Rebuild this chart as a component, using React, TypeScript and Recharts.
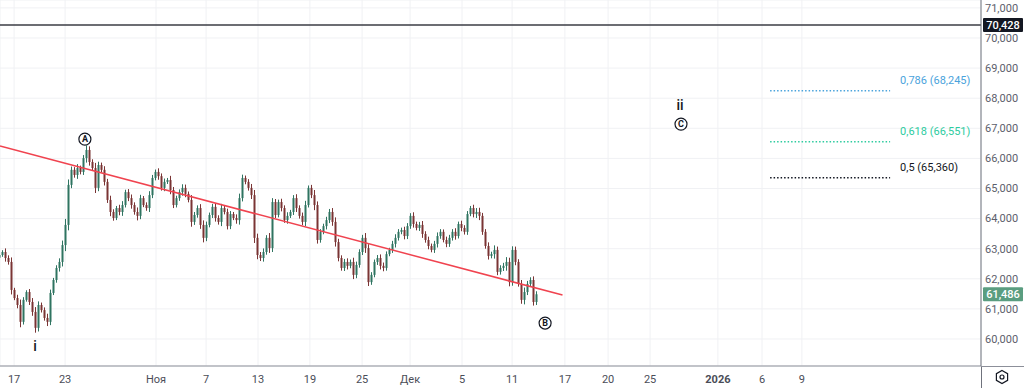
import {
  ComposedChart,
  Bar,
  XAxis,
  YAxis,
  CartesianGrid,
  ReferenceLine,
  ReferenceDot,
} from "recharts";

// closing prices, one per bar (bars are evenly spaced on the time index)
const closes = [
  62790, 62890, 62690, 62560, 61630, 61360, 61130, 60570, 61300, 61560, 61230, 60900, 60370, 61130, 60960, 60700, 60570, 61530, 61960, 62360,
  62560, 63120, 63790, 65120, 65620, 65450, 65680, 65550, 66010, 66280, 65880, 65680, 65020, 65780, 65620, 65220, 64620, 64220, 64020, 64350,
  64220, 64450, 64880, 64680, 64450, 64220, 64090, 64680, 64450, 64350, 64780, 65350, 65550, 65410, 65020, 65220, 65280, 64950, 64450, 64680,
  64880, 65020, 64820, 64620, 63890, 64120, 64350, 63790, 63360, 63790, 64120, 64390, 64020, 63890, 64350, 64220, 63750, 64150, 64020, 63950,
  64680, 65350, 65220, 65020, 64780, 63360, 62790, 62690, 62890, 63360, 63020, 64550, 64120, 64550, 64350, 63950, 64090, 64220, 64680, 64350,
  64090, 63890, 64450, 65020, 64780, 64450, 63290, 63560, 63750, 63950, 64220, 63890, 63220, 62690, 62360, 62560, 62430, 62560, 62130, 62460,
  62890, 63360, 63020, 61890, 62130, 62560, 62690, 62430, 62360, 62820, 62960, 63160, 63360, 63560, 63620, 63420, 63750, 64090, 63820, 63690,
  63790, 63490, 63290, 63090, 62960, 63160, 63420, 63560, 63290, 63160, 63360, 63560, 63420, 63820, 63690, 63560, 64150, 64350, 64150, 64220,
  64090, 63560, 63090, 62760, 62820, 62960, 62230, 62360, 62430, 62560, 61890, 62960, 62560, 61830, 61300, 61560, 61830, 61960, 61230, 61486,
];

// shadow length beyond the body, per bar
const wicks = [
  80, 60, 120, 90, 150, 70, 110, 180, 90, 60, 100, 130, 160, 120, 80, 90, 140, 110, 70, 90,
  120, 150, 200, 180, 110, 90, 130, 80, 100, 150, 120, 90, 170, 110, 80, 120, 100, 140, 90, 70,
  110, 130, 80, 100, 120, 90, 150, 110, 70, 90, 130, 100, 80, 120, 90, 110, 70, 140, 100, 80,
  90, 120, 110, 80, 160, 100, 90, 130, 150, 110, 80, 100, 120, 90, 140, 80, 110, 100, 70, 120,
  150, 110, 80, 90, 130, 170, 140, 100, 120, 90, 160, 130, 100, 80, 110, 90, 120, 70, 100, 130,
  90, 110, 140, 80, 100, 170, 120, 90, 80, 110, 100, 130, 150, 110, 90, 100, 120, 80, 140, 110,
  90, 100, 160, 130, 90, 80, 100, 120, 110, 90, 70, 100, 120, 90, 80, 110, 100, 90, 120, 80,
  100, 130, 90, 110, 80, 100, 120, 90, 80, 110, 100, 90, 120, 80, 110, 90, 100, 70, 110, 130,
  140, 100, 90, 120, 80, 150, 110, 90, 100, 160, 140, 120, 110, 90, 130, 150, 100, 90, 120, 100,
];

const firstOpen = 62700;

const timeDomain = [0, 327];
const timeTicks = [4.7, 21.7, 52, 68.7, 86, 103.3, 120.7, 136.7, 154, 170.7, 188.3, 202.7, 216.7, 239.3, 254, 267.3];
const timeLabels = ["17", "23", "Ноя", "7", "13", "19", "25", "Дек", "5", "11", "17", "20", "25", "2026", "6", "9"];

const priceDomain = [59103, 71262];
const priceTicks = [60000, 61000, 62000, 63000, 64000, 65000, 66000, 67000, 68000, 69000, 70000, 71000];

const trendLine = [
  { idx: 0, price: 66410 },
  { idx: 187.5, price: 61460 },
];

const fibRatios = ["0,786", "0,618", "0,5"];
const fibPrices = [68245, 66551, 65360];
const fibFrom = 256.7;
const fibTo = 296.7;

const markerPrice = 70428;
const lastPrice = 61486;

const waveNames = ["A", "i", "B", "ii", "C"];
const waveIdx = [28.3, 11.7, 181.7, 226.7, 227];
const wavePrices = [66640, 59770, 60530, 67770, 67140];
const waveCircled = [true, false, true, false, true];

const UP = "#2f7461";
const DOWN = "#7a3434";
const fibColors = ["#4aa3dc", "#2ecc9f", "#131722"];

const candles = closes.map((close, i) => {
  const open = i === 0 ? firstOpen : closes[i - 1];
  return {
    idx: i,
    open,
    close,
    range: [Math.min(open, close) - wicks[i], Math.max(open, close) + wicks[i]],
  };
});

const fmt = (v: number) => v.toLocaleString("en-US");

function Candle(props: any) {
  const { x, y, width, height, payload } = props;
  if (height == null || !payload) return null;
  const [lo, hi] = payload.range;
  const up = payload.close >= payload.open;
  const color = up ? UP : DOWN;
  const cx = x + width / 2;
  const k = height / (hi - lo || 1);
  const top = y + (hi - Math.max(payload.open, payload.close)) * k;
  const bot = y + (hi - Math.min(payload.open, payload.close)) * k;
  return (
    <g>
      <line x1={cx} x2={cx} y1={y} y2={y + height} stroke={color} strokeWidth={1} />
      <rect x={x} y={top} width={width} height={Math.max(1, bot - top)} fill={color} />
    </g>
  );
}

function TimeTick(props: any) {
  const { x, y, payload, index } = props;
  const label = timeLabels[index] ?? "";
  return (
    <text
      x={x}
      y={y}
      dy={9}
      textAnchor="middle"
      fontSize={11}
      fill="#4a4d57"
      fontWeight={label === "2026" ? 700 : 400}
    >
      {label}
    </text>
  );
}

function PriceTag({ cx, cy, text, bg }: any) {
  return (
    <g>
      <rect x={cx + 2} y={cy - 7} width={40} height={14} fill={bg} rx={1} />
      <text x={cx + 22} y={cy + 4} textAnchor="middle" fontSize={11} fill="#fff" fontWeight={500}>
        {text}
      </text>
    </g>
  );
}

function WaveMark({ cx, cy, name, circled }: any) {
  if (circled) {
    return (
      <g>
        <circle cx={cx} cy={cy} r={6} fill="#fff" stroke="#131722" strokeWidth={1.2} />
        <text x={cx} y={cy + 3.3} textAnchor="middle" fontSize={9} fontWeight={700} fill="#131722">
          {name}
        </text>
      </g>
    );
  }
  return (
    <text x={cx} y={cy + 5} textAnchor="middle" fontSize={14} fontWeight={500} fill="#131722">
      {name}
    </text>
  );
}

export default function App() {
  return (
    <div
      style={{
        position: "fixed",
        left: 0,
        top: 0,
        width: 1024,
        height: 388,
        background: "#fff",
        fontFamily: "Roboto, 'Noto Sans', sans-serif",
      }}
    >
      <ComposedChart
        width={1024}
        height={388}
        data={candles}
        margin={{ top: 0, right: 0, left: 0, bottom: 0 }}
      >
        <CartesianGrid stroke="#f0f1f4" strokeWidth={1} />
        <XAxis
          dataKey="idx"
          type="number"
          domain={timeDomain}
          ticks={timeTicks}
          allowDataOverflow
          height={22}
          tickLine={false}
          axisLine={{ stroke: "#8c8f99" }}
          tick={<TimeTick />}
          interval={0}
        />
        <YAxis
          orientation="right"
          type="number"
          domain={priceDomain}
          ticks={priceTicks}
          allowDataOverflow
          width={43}
          tickLine={false}
          tickSize={2}
          tickMargin={2}
          axisLine={{ stroke: "#6f727c" }}
          tick={{ fontSize: 11, fill: "#5d606b", textAnchor: "start" }}
          tickFormatter={fmt}
          interval={0}
        />
        <Bar
          dataKey="range"
          barSize={2}
          shape={<Candle />}
          isAnimationActive={false}
        />
        <ReferenceLine y={markerPrice} stroke="#3b3d45" strokeWidth={1.5} />
        <ReferenceLine
          segment={trendLine.map((p) => ({ x: p.idx, y: p.price }))}
          stroke="#f0434f"
          strokeWidth={1.5}
        />
        {fibPrices.map((p, i) => (
          <ReferenceLine
            key={`fib-${i}`}
            segment={[
              { x: fibFrom, y: p },
              { x: fibTo, y: p },
            ]}
            stroke={fibColors[i]}
            strokeWidth={1.5}
            strokeDasharray="1.5 2"
          />
        ))}
        {fibPrices.map((p, i) => (
          <ReferenceDot
            key={`fibl-${i}`}
            x={fibTo}
            y={p}
            r={0}
            ifOverflow="visible"
            shape={(s: any) => (
              <text x={s.cx + 10} y={s.cy - 7} fontSize={11} fill={fibColors[i]}>
                {`${fibRatios[i]} (${fmt(p).replace(",", ",")})`}
              </text>
            )}
          />
        ))}
        {waveNames.map((n, i) => (
          <ReferenceDot
            key={`w-${i}`}
            x={waveIdx[i]}
            y={wavePrices[i]}
            r={0}
            ifOverflow="visible"
            shape={(s: any) => <WaveMark cx={s.cx} cy={s.cy} name={n} circled={waveCircled[i]} />}
          />
        ))}
        <ReferenceDot
          x={timeDomain[1]}
          y={markerPrice}
          r={0}
          ifOverflow="visible"
          shape={(s: any) => <PriceTag cx={s.cx} cy={s.cy} text={fmt(markerPrice)} bg="#131722" />}
        />
        <ReferenceDot
          x={timeDomain[1]}
          y={lastPrice}
          r={0}
          ifOverflow="visible"
          shape={(s: any) => <PriceTag cx={s.cx} cy={s.cy} text={fmt(lastPrice)} bg="#5a9d80" />}
        />
      </ComposedChart>
      <svg
        width={1024}
        height={388}
        style={{ position: "absolute", left: 0, top: 0, pointerEvents: "none" }}
      >
        <line x1={981.5} x2={981.5} y1={366} y2={388} stroke="#6f727c" />
        <line x1={981} x2={1024} y1={366.5} y2={366.5} stroke="#8c8f99" />
        <polygon
          points="1002,370.5 1007.6,373.7 1007.6,380.3 1002,383.5 996.4,380.3 996.4,373.7"
          fill="none"
          stroke="#131722"
          strokeWidth={1.2}
        />
        <circle cx={1002} cy={377} r={2} fill="none" stroke="#131722" strokeWidth={1.2} />
      </svg>
    </div>
  );
}
